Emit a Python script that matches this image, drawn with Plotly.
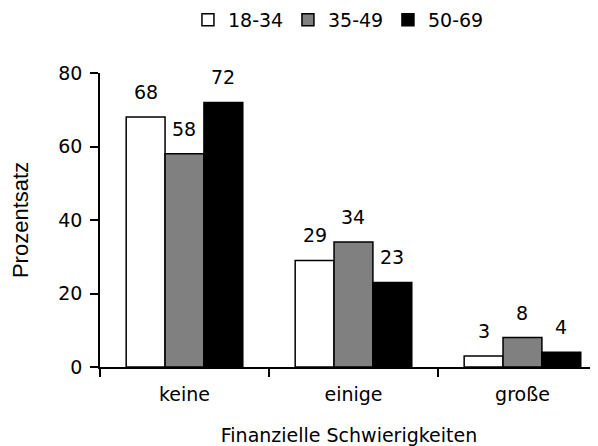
import plotly.graph_objects as go

categories = ["keine", "einige", "große"]
series_names = ["18-34", "35-49", "50-69"]
values_18_34 = [68, 29, 3]
values_35_49 = [58, 34, 8]
values_50_69 = [72, 23, 4]
y_ticks = [0, 20, 40, 60, 80]

colors = ["#ffffff", "#808080", "#000000"]
series = [values_18_34, values_35_49, values_50_69]
xpos = list(range(len(categories)))
bargap = 0.31
bar_w = (1 - bargap) / len(series)

FONT = "DejaVu Sans, sans-serif"
FS = 19

fig = go.Figure()
for k, (name, vals, col) in enumerate(zip(series_names, series, colors)):
    fig.add_trace(go.Bar(
        x=xpos, y=vals, name=name,
        marker=dict(color=col, line=dict(color="black", width=1.5)),
    ))
    for i, v in zip(xpos, vals):
        fig.add_annotation(x=i + (k - 1) * bar_w, y=v, xref="x", yref="y",
                           text=str(v), showarrow=False, yanchor="middle",
                           yshift=25, font=dict(size=FS, color="black"))

# invisible trace to activate the label axis
fig.add_trace(go.Scatter(x=xpos, y=[0]*3, xaxis="x2", mode="markers",
                         marker=dict(opacity=0), showlegend=False, hoverinfo="skip"))

xr = [-0.5, 2.447]
fig.update_layout(
    width=590, height=438,
    margin=dict(l=92, r=0, t=65, b=79, autoexpand=False),
    paper_bgcolor="white", plot_bgcolor="white",
    font=dict(family=FONT, size=FS, color="black"),
    barmode="group", bargap=bargap, bargroupgap=0,
    showlegend=True,
    legend=dict(orientation="h", xref="container", yref="container",
                x=0.305, xanchor="left", y=0.9726, yanchor="middle",
                font=dict(size=FS), itemwidth=30, traceorder="normal",
                entrywidth=55, entrywidthmode="pixels"),
    xaxis=dict(range=xr, tickmode="array", tickvals=[-0.5, 0.5, 1.5],
               ticktext=["", "", ""], ticks="outside", ticklen=8, tickwidth=1.5,
               tickcolor="black", showline=True, linecolor="black", linewidth=1.5,
               showgrid=False, zeroline=False, automargin=False),
    xaxis2=dict(range=xr, overlaying="x", side="bottom", tickmode="array",
                tickvals=xpos, ticktext=categories, ticks="", showline=False,
                showgrid=False, zeroline=False, tickfont=dict(size=FS),
                ticklabelstandoff=14, automargin=False,
                title=dict(text="Finanzielle Schwierigkeiten", font=dict(size=FS), standoff=26)),
    yaxis=dict(range=[0, 80], tickmode="array", tickvals=y_ticks, ticks="outside",
               ticklen=8, tickwidth=1.5, tickcolor="black", showline=True,
               linecolor="black", linewidth=1.5, showgrid=False, zeroline=False,
               tickfont=dict(size=FS), automargin=False, ticklabelstandoff=4,
               title=dict(text="Prozentsatz",
                          font=dict(size=22, family="Liberation Sans, Arial, sans-serif"),
                          standoff=28)),
)
fig.write_html("out.html")
